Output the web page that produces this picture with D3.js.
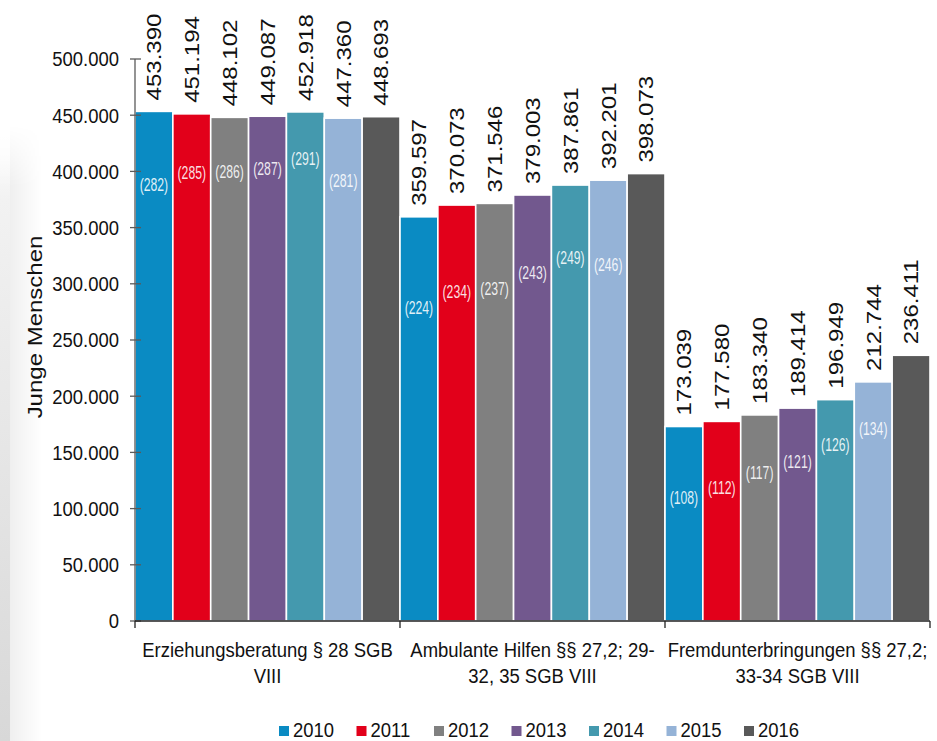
<!DOCTYPE html>
<html>
<head>
<meta charset="utf-8">
<script src="https://cdn.jsdelivr.net/npm/d3@7"></script>
<style>
  body { margin: 0; background: #fff; }
  svg { display: block; font-family: "Liberation Sans", Arial, sans-serif; }
</style>
</head>
<body>
<svg id="chart" width="937" height="741"></svg>
<script>
// ---- data ----
const categories = [
  ["Erziehungsberatung § 28 SGB", "VIII"],
  ["Ambulante Hilfen §§ 27,2; 29-", "32, 35 SGB VIII"],
  ["Fremdunterbringungen §§ 27,2;", "33-34 SGB VIII"]
];
const years = ["2010", "2011", "2012", "2013", "2014", "2015", "2016"];
const yearColors = ["#0a8bc3", "#e2001a", "#808080", "#72588e", "#4499ae", "#95b3d7", "#595959"];

// young people per help type and year
const erziehungsberatung   = [453390, 451194, 448102, 449087, 452918, 447360, 448693];
const ambulanteHilfen      = [359597, 370073, 371546, 379003, 387861, 392201, 398073];
const fremdunterbringungen = [173039, 177580, 183340, 189414, 196949, 212744, 236411];

// rate per 10,000 (shown in brackets, 2016 has none)
const erziehungsberatungRate   = [282, 285, 286, 287, 291, 281, null];
const ambulanteHilfenRate      = [224, 234, 237, 243, 249, 246, null];
const fremdunterbringungenRate = [108, 112, 117, 121, 126, 134, null];

// level (in the value scale) at which each bracket label sits
const erziehungsberatungRateAt   = [388000, 398600, 399500, 402000, 411000, 391500, null];
const ambulanteHilfenRateAt      = [278500, 292700, 295400, 309600, 323000, 316700, null];
const fremdunterbringungenRateAt = [109400, 119000, 131700, 141500, 156600, 171000, null];

const yTicks = [0, 50000, 100000, 150000, 200000, 250000, 300000, 350000, 400000, 450000, 500000];
const yTitle = "Junge Menschen";

const seriesByCategory = [erziehungsberatung, ambulanteHilfen, fremdunterbringungen];
const ratesByCategory = [erziehungsberatungRate, ambulanteHilfenRate, fremdunterbringungenRate];
const rateAtByCategory = [erziehungsberatungRateAt, ambulanteHilfenRateAt, fremdunterbringungenRateAt];

// ---- setup ----
const svg = d3.select("#chart");
const de = d3.formatLocale({ decimal: ",", thousands: ".", grouping: [3], currency: ["", " €"] });
const fmt = de.format(",d");

const x0 = d3.scaleBand().domain(d3.range(categories.length)).range([135, 930]).padding(0);
const x1 = d3.scaleBand().domain(years).range([0, x0.bandwidth()]).padding(0);
const y = d3.scaleLinear().domain([0, 500000]).range([621, 59]);
const color = d3.scaleOrdinal().domain(years).range(yearColors);

// soft grey edge on the left of the slide
const defs = svg.append("defs");
const gEdge = defs.append("linearGradient").attr("id", "edgeV").attr("x1", 0).attr("x2", 0).attr("y1", 0).attr("y2", 1);
gEdge.append("stop").attr("offset", "0%").attr("stop-color", "#ffffff");
gEdge.append("stop").attr("offset", "12%").attr("stop-color", "#f2f2f2");
gEdge.append("stop").attr("offset", "100%").attr("stop-color", "#d8d8d8");
const gFade = defs.append("linearGradient").attr("id", "edgeH").attr("x1", 0).attr("x2", 1).attr("y1", 0).attr("y2", 0);
gFade.append("stop").attr("offset", "0%").attr("stop-color", "#efefef");
gFade.append("stop").attr("offset", "100%").attr("stop-color", "#ffffff");
const gFadeMask = defs.append("linearGradient").attr("id", "edgeMaskGrad").attr("x1", 0).attr("x2", 0).attr("y1", 0).attr("y2", 1);
gFadeMask.append("stop").attr("offset", "0%").attr("stop-color", "#000");
gFadeMask.append("stop").attr("offset", "10%").attr("stop-color", "#fff");
gFadeMask.append("stop").attr("offset", "100%").attr("stop-color", "#fff");
defs.append("mask").attr("id", "edgeMask")
  .append("rect").attr("x", 0).attr("y", 125).attr("width", 50).attr("height", 616).attr("fill", "url(#edgeMaskGrad)");
const edge = svg.append("g").attr("mask", "url(#edgeMask)");
edge.append("rect").attr("x", 10).attr("y", 125).attr("width", 32).attr("height", 616).attr("fill", "url(#edgeH)");
edge.append("rect").attr("x", 0).attr("y", 125).attr("width", 10).attr("height", 616).attr("fill", "url(#edgeV)");

// ---- bars ----
const groups = svg.append("g").selectAll("g")
  .data(seriesByCategory.map((vals, ci) => ({ ci, vals })))
  .join("g")
  .attr("transform", d => `translate(${x0(d.ci)},0)`);

groups.selectAll("rect")
  .data(d => d.vals.map((v, i) => ({ year: years[i], v })))
  .join("rect")
  .attr("x", d => x1(d.year))
  .attr("y", d => y(d.v))
  .attr("width", x1.bandwidth())
  .attr("height", d => y(0) - y(d.v))
  .attr("fill", d => color(d.year))
  .attr("stroke", "#fff")
  .attr("stroke-width", 1.6);

// value labels, rotated above each bar
groups.selectAll("text.val")
  .data(d => d.vals.map((v, i) => ({ year: years[i], v })))
  .join("text")
  .attr("class", "val")
  .attr("transform", d => `translate(${x1(d.year) + x1.bandwidth() / 2},${y(d.v) - 11}) rotate(-90) scale(1,0.87)`)
  .attr("dy", "0.35em")
  .attr("text-anchor", "start")
  .attr("font-size", 24)
  .attr("fill", "#111")
  .text(d => fmt(d.v));

// bracketed rate labels inside the bars
groups.selectAll("text.rate")
  .data(d => ratesByCategory[d.ci]
    .map((r, i) => ({ year: years[i], r, at: rateAtByCategory[d.ci][i] }))
    .filter(e => e.r != null))
  .join("text")
  .attr("class", "rate")
  .attr("transform", d => `translate(${x1(d.year) + x1.bandwidth() / 2},${y(d.at)}) scale(0.68,1)`)
  .attr("dy", "0.35em")
  .attr("text-anchor", "middle")
  .attr("font-size", 18)
  .attr("fill", "#ffffff")
  .attr("fill-opacity", 0.88)
  .text(d => `(${d.r})`);

// ---- axes ----
const yAxis = svg.append("g");
yAxis.append("line")
  .attr("x1", 135).attr("x2", 135).attr("y1", y(500000)).attr("y2", y(0))
  .attr("stroke", "#5a5a5a").attr("stroke-width", 1.3);
yAxis.selectAll("line.tick")
  .data(yTicks).join("line").attr("class", "tick")
  .attr("x1", 130).attr("x2", 141).attr("y1", d => y(d)).attr("y2", d => y(d))
  .attr("stroke", "#5a5a5a").attr("stroke-width", 1.3);
yAxis.selectAll("text")
  .data(yTicks).join("text")
  .attr("transform", d => `translate(119,${y(d)}) scale(0.88,1)`)
  .attr("dy", "0.35em")
  .attr("text-anchor", "end")
  .attr("font-size", 21)
  .attr("fill", "#111")
  .text(d => fmt(d));

svg.append("text")
  .attr("transform", `translate(35,327) rotate(-90) scale(1,0.85)`)
  .attr("dy", "0.35em")
  .attr("text-anchor", "middle")
  .attr("font-size", 24)
  .attr("fill", "#111")
  .text(yTitle);

const xAxis = svg.append("g");
xAxis.append("line")
  .attr("x1", 135).attr("x2", 930).attr("y1", y(0)).attr("y2", y(0))
  .attr("stroke", "#222").attr("stroke-width", 1.3);
const boundaries = d3.range(categories.length).map(i => x0(i)).concat([x0.range()[1]]);
xAxis.selectAll("line.tick")
  .data(boundaries).join("line").attr("class", "tick")
  .attr("x1", d => d).attr("x2", d => d).attr("y1", y(0)).attr("y2", y(0) + 7)
  .attr("stroke", "#222").attr("stroke-width", 1.3);

const catLabels = xAxis.selectAll("g.cat")
  .data(categories.map((lines, i) => ({ lines, i })))
  .join("g").attr("class", "cat");
catLabels.selectAll("text")
  .data(d => d.lines.map((t, k) => ({ t, k, cx: x0(d.i) + x0.bandwidth() / 2 })))
  .join("text")
  .attr("transform", d => `translate(${d.cx},${657 + d.k * 26}) scale(0.88,1)`)
  .attr("text-anchor", "middle")
  .attr("font-size", 21)
  .attr("fill", "#111")
  .text(d => d.t);

// ---- legend ----
const legendX = d3.scaleBand().domain(years).range([279, 279 + 77.5 * years.length]).padding(0);
const legend = svg.append("g").selectAll("g")
  .data(years).join("g")
  .attr("transform", d => `translate(${legendX(d)},0)`);
legend.append("rect")
  .attr("x", 0).attr("y", 726).attr("width", 10).attr("height", 10)
  .attr("fill", d => color(d));
legend.append("text")
  .attr("transform", "translate(14,737) scale(0.88,1)")
  .attr("font-size", 21)
  .attr("fill", "#111")
  .text(d => d);
</script>
</body>
</html>
